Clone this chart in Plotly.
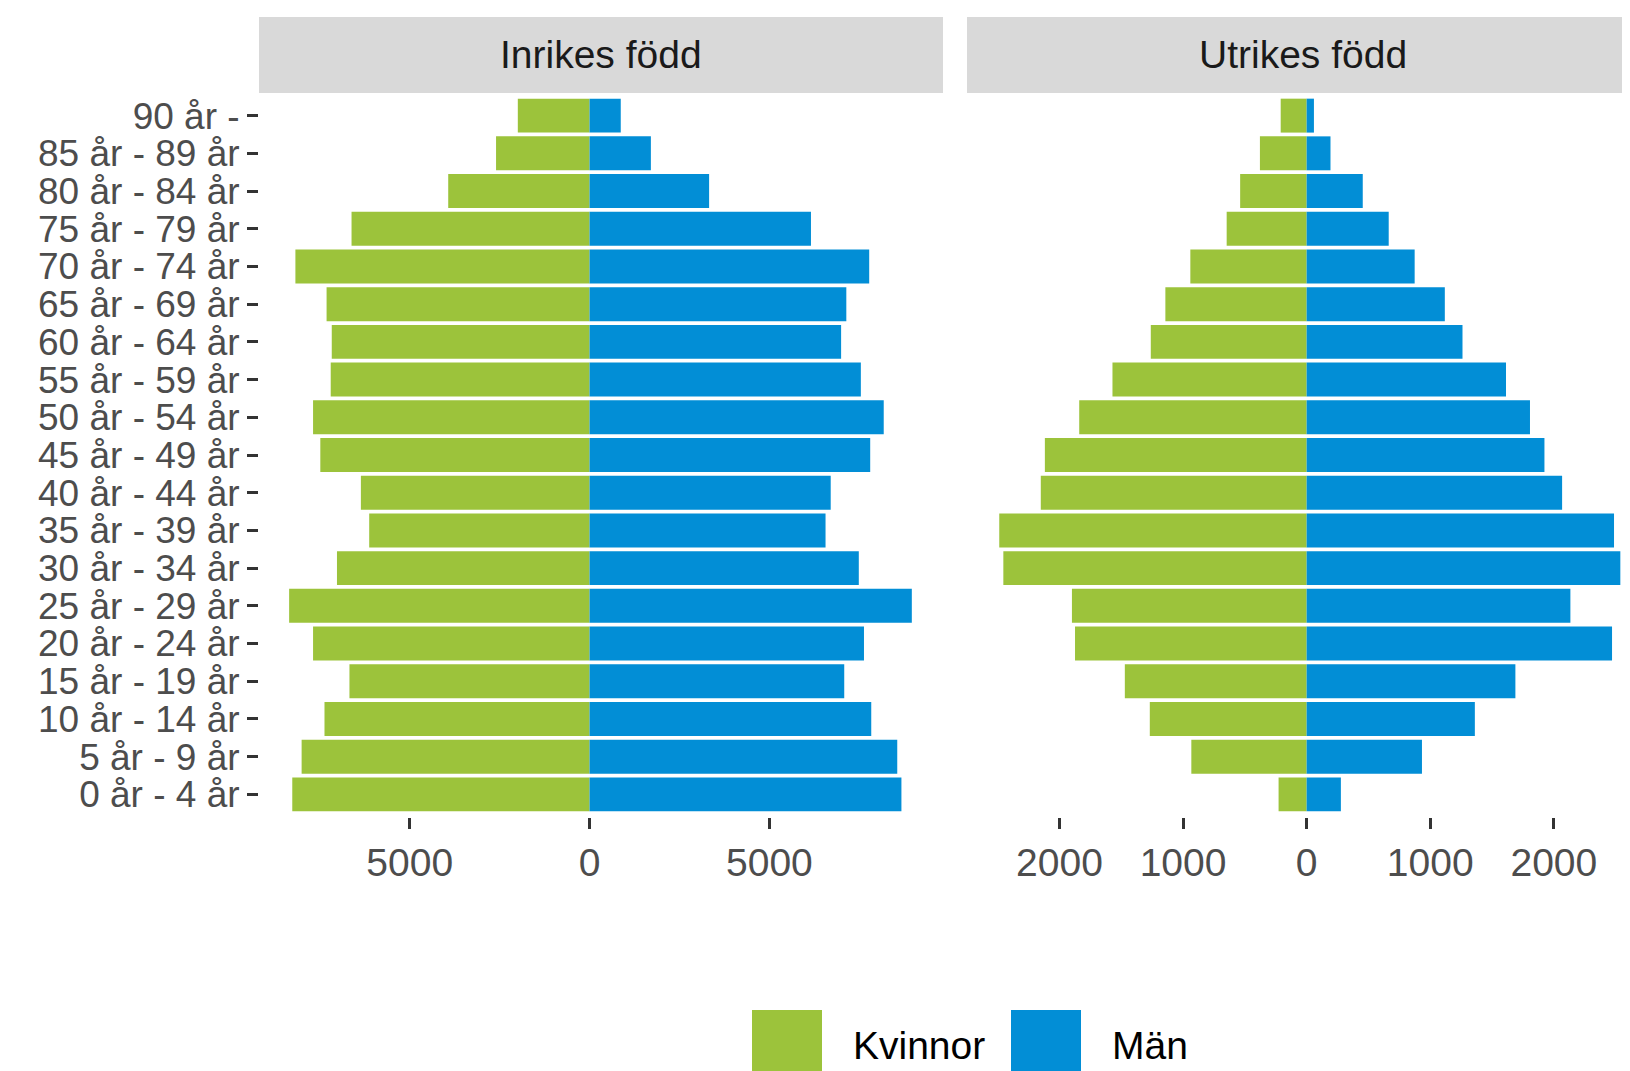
import plotly.graph_objects as go

age_groups = ["0 år - 4 år", "5 år - 9 år", "10 år - 14 år", "15 år - 19 år", "20 år - 24 år",
              "25 år - 29 år", "30 år - 34 år", "35 år - 39 år", "40 år - 44 år", "45 år - 49 år",
              "50 år - 54 år", "55 år - 59 år", "60 år - 64 år", "65 år - 69 år", "70 år - 74 år",
              "75 år - 79 år", "80 år - 84 år", "85 år - 89 år", "90 år -"]

inrikes_kvinnor = [8266, 8006, 7370, 6676, 7688, 8353, 7023, 6127, 6358, 7486,
                   7688, 7197, 7168, 7312, 8179, 6618, 3930, 2600, 1995]
inrikes_man = [8671, 8555, 7832, 7081, 7630, 8960, 7486, 6561, 6705, 7803,
               8179, 7543, 6994, 7139, 7775, 6156, 3324, 1705, 867]
utrikes_kvinnor = [227, 933, 1269, 1471, 1874, 1899, 2454, 2487, 2151, 2118,
                   1840, 1571, 1261, 1143, 941, 647, 538, 378, 210]
utrikes_man = [277, 933, 1361, 1689, 2471, 2134, 2538, 2487, 2067, 1924,
               1807, 1613, 1261, 1118, 874, 664, 454, 193, 59]

panel_titles = ["Inrikes född", "Utrikes född"]
series_names = ["Kvinnor", "Män"]
left_tickvals = [-5000, 0, 5000]
left_ticktext = ["5000", "0", "5000"]
right_tickvals = [-2000, -1000, 0, 1000, 2000]
right_ticktext = ["2000", "1000", "0", "1000", "2000"]

GREEN = "#9CC33B"
BLUE = "#028ED6"
FONT = "Liberation Sans, Arial, sans-serif"
FS = 39
FS_Y = 37

fig = go.Figure()
fig.add_trace(go.Bar(y=age_groups, x=[-v for v in inrikes_kvinnor], orientation="h",
                     marker=dict(color=GREEN, line=dict(width=0)), name=series_names[0],
                     xaxis="x", yaxis="y", showlegend=False))
fig.add_trace(go.Bar(y=age_groups, x=inrikes_man, orientation="h",
                     marker=dict(color=BLUE, line=dict(width=0)), name=series_names[1],
                     xaxis="x", yaxis="y", showlegend=False))
fig.add_trace(go.Bar(y=age_groups, x=[-v for v in utrikes_kvinnor], orientation="h",
                     marker=dict(color=GREEN, line=dict(width=0)), name=series_names[0],
                     xaxis="x2", yaxis="y", showlegend=False))
fig.add_trace(go.Bar(y=age_groups, x=utrikes_man, orientation="h",
                     marker=dict(color=BLUE, line=dict(width=0)), name=series_names[1],
                     xaxis="x2", yaxis="y", showlegend=False))

W, H = 1630, 1071
xl = (251 / W, 935 / W)
xr = (959 / W, 1.0)
ydom = (1 - 809 / H, 1 - 85 / H)
strip_top = 1 - 9 / H

axis_common = dict(showgrid=False, zeroline=False, showline=False, ticks="outside",
                   ticklen=11, tickwidth=3, tickcolor="#333333")

fig.update_layout(
    width=W, height=H,
    margin=dict(l=0, r=0, t=0, b=0),
    paper_bgcolor="white", plot_bgcolor="white",
    barmode="relative", bargap=0.1,
    xaxis=dict(domain=list(xl), range=[-9191, 9827], tickmode="array", tickvals=left_tickvals,
               ticktext=left_ticktext, anchor="y",
               tickfont=dict(family=FONT, size=FS, color="#4D4D4D"), **axis_common),
    xaxis2=dict(domain=list(xr), range=[-2748, 2681], tickmode="array", tickvals=right_tickvals,
                ticktext=right_ticktext, anchor="y",
                tickfont=dict(family=FONT, size=FS, color="#4D4D4D"), **axis_common),
    yaxis=dict(domain=list(ydom), type="category", categoryorder="array",
               categoryarray=age_groups, range=[-0.6, len(age_groups) - 0.4],
               tickmode="array", tickvals=age_groups, ticktext=age_groups,
               anchor="x", tickfont=dict(family=FONT, size=FS_Y, color="#4D4D4D"),
               **axis_common),
)

shapes = []
annotations = []
for dom, title in zip([xl, xr], panel_titles):
    shapes.append(dict(type="rect", xref="paper", yref="paper", x0=dom[0], x1=dom[1],
                       y0=ydom[1], y1=strip_top, fillcolor="#D9D9D9", line=dict(width=0),
                       layer="below"))
    annotations.append(dict(xref="paper", yref="paper", x=(dom[0] + dom[1]) / 2,
                            y=(ydom[1] + strip_top) / 2, text=title, showarrow=False,
                            xanchor="center", yanchor="middle",
                            font=dict(family=FONT, size=FS, color="#1A1A1A")))

# legend keys
for (x0, x1), col, tx, name in [((744, 814), GREEN, 843, series_names[0]),
                                ((1003, 1073), BLUE, 1102, series_names[1])]:
    shapes.append(dict(type="rect", xref="paper", yref="paper", x0=x0 / W, x1=x1 / W,
                       y0=-0.02, y1=1 - 1002 / H, fillcolor=col, line=dict(width=0)))
    annotations.append(dict(xref="paper", yref="paper", x=tx / W, y=1 - 1037 / H,
                            text=name, showarrow=False, xanchor="left", yanchor="middle",
                            font=dict(family=FONT, size=FS, color="#000000")))

fig.update_layout(shapes=shapes, annotations=annotations)
fig.write_html("out.html")
